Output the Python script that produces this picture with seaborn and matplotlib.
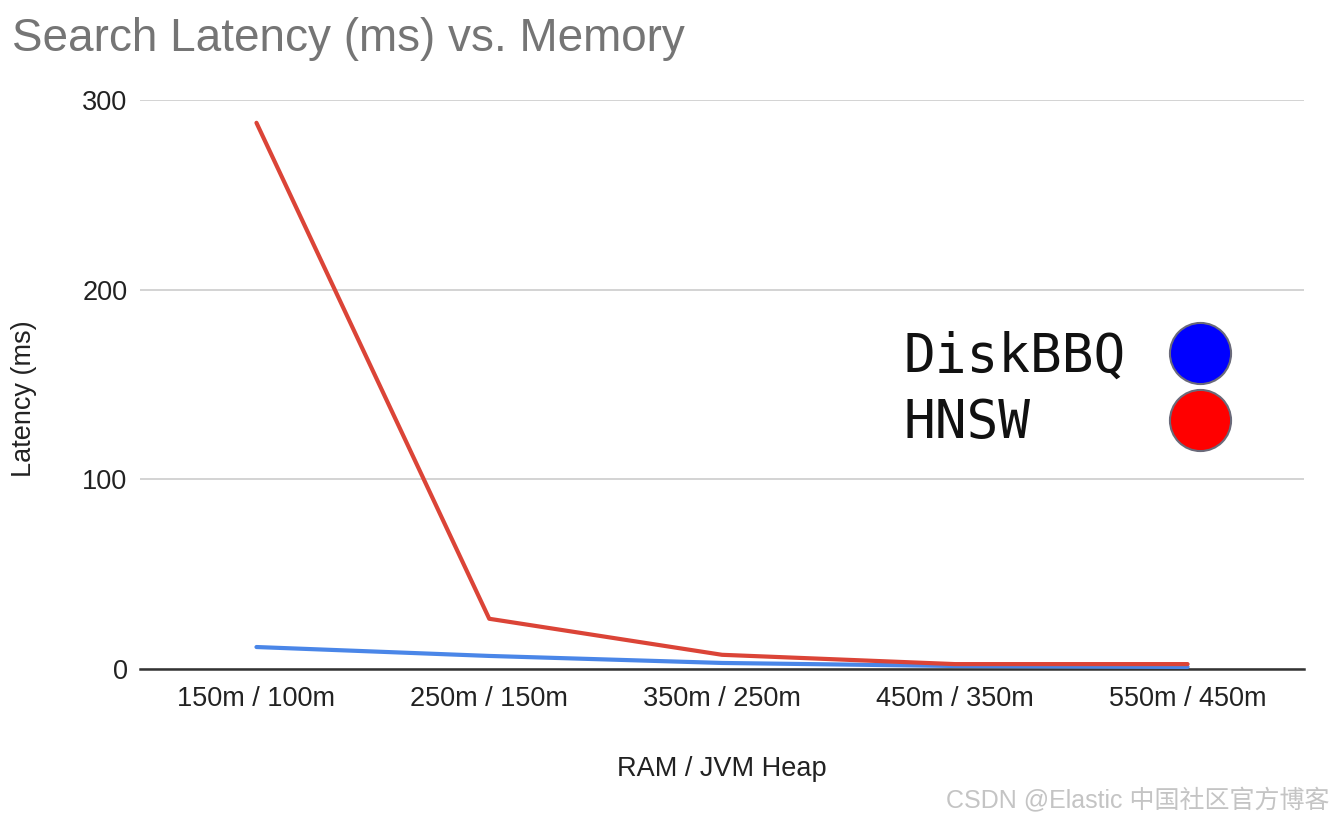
import numpy as np
import pandas as pd
import matplotlib.pyplot as plt
import seaborn as sns

# values
memory = ['150m / 100m', '250m / 150m', '350m / 250m', '450m / 350m', '550m / 450m']
hnsw = [288, 26.5, 7.5, 2.6, 2.6]
diskbbq = [11.6, 6.9, 3.2, 1.6, 1.1]
y_ticks = [0, 100, 200, 300]
legend_names = ['DiskBBQ', 'HNSW']
legend_colors = ['#0000FF', '#FF0000']

df = pd.DataFrame({
    'memory': memory * 2,
    'latency': hnsw + diskbbq,
    'method': ['HNSW'] * len(memory) + ['DiskBBQ'] * len(memory),
})
df['pos'] = df['memory'].map({m: i for i, m in enumerate(memory)})

sns.set_theme(style='white')
plt.rcParams['font.family'] = ['Liberation Sans', 'DejaVu Sans']

fig = plt.figure(figsize=(13.34, 8.22), dpi=100)
ax = fig.add_axes([0.105, 0.1861, 0.8725, 0.6922])

sns.lineplot(data=df, x='pos', y='latency', hue='method',
             hue_order=['DiskBBQ', 'HNSW'],
             palette={'HNSW': '#DB4437', 'DiskBBQ': '#4A86E8'},
             linewidth=3, legend=False, ax=ax)

ax.set_xlim(-0.5, len(memory) - 0.5)
ax.set_ylim(0, 300)
ax.set_xticks(range(len(memory)))
ax.set_xticklabels(memory, fontsize=19.5, color='#222222')
ax.set_yticks(y_ticks)
ax.set_yticklabels([str(t) for t in y_ticks], fontsize=19.5, color='#222222')
ax.tick_params(axis='x', length=0, pad=12)
ax.tick_params(axis='y', length=0, pad=9)
ax.grid(axis='y', color='#cccccc', linewidth=1.2)
ax.set_axisbelow(True)
for s in ['top', 'right', 'left']:
    ax.spines[s].set_visible(False)
ax.spines['bottom'].set_color('#333333')
ax.spines['bottom'].set_linewidth(1.8)
ax.spines['bottom'].set_zorder(1)

ax.set_xlabel('RAM / JVM Heap', fontsize=19.5, color='#222222')
ax.set_ylabel('Latency (ms)', fontsize=19.5, color='#222222')
ax.xaxis.set_label_coords(0.5, -0.152)
ax.yaxis.set_label_coords(-0.0885, 0.4745)

fig.text(0.009, 0.953, 'Search Latency (ms) vs. Memory', fontsize=33,
         color='#757575', ha='left', va='center')

# legend: monospace label, then a big circle to its right
for i, (name, col) in enumerate(zip(legend_names, legend_colors)):
    ax.text(0.6555, [0.522, 0.406][i], name, transform=ax.transAxes,
            fontsize=38, family='DejaVu Sans Mono', color='#111111',
            ha='left', va='baseline')
    ax.plot([0.9107], [[0.5554, 0.4376][i]], transform=ax.transAxes,
            marker='o', markersize=44, linestyle='none', clip_on=False,
            markerfacecolor=col, markeredgecolor='#6a6a7a', markeredgewidth=1.5)

fig.text(0.997, 0.026, 'CSDN @Elastic 中国社区官方博客', fontsize=18,
         color='#c4c4c4', ha='right', va='center',
         family=['Liberation Sans', 'Noto Sans CJK SC'])

fig.savefig('out.png', dpi=100)
